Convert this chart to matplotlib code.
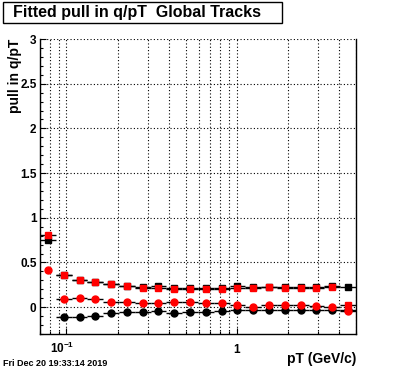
import matplotlib
matplotlib.use('Agg')
import matplotlib.pyplot as plt
import matplotlib.patches as patches
import numpy as np
from matplotlib.ticker import MultipleLocator, NullFormatter, FuncFormatter

plt.rcParams['font.family'] = ['Liberation Sans', 'DejaVu Sans']
plt.rcParams['font.weight'] = 'bold'
plt.rcParams['mathtext.fontset'] = 'custom'
plt.rcParams['mathtext.rm'] = 'Liberation Sans:bold'
plt.rcParams['mathtext.it'] = 'Liberation Sans:bold'
plt.rcParams['mathtext.bf'] = 'Liberation Sans:bold'

# pT bin edges (GeV/c), log-spaced bins
pt_edges = [0.070, 0.0867, 0.1073, 0.1328, 0.1644, 0.2035, 0.2519, 0.3118,
            0.3860, 0.4779, 0.5916, 0.7323, 0.9065, 1.1222, 1.3892, 1.7197,
            2.1288, 2.6353, 3.2622, 4.0383, 5.0]

# fitted pull values per bin
red_squares = [0.81, 0.355, 0.307, 0.284, 0.254, 0.232, 0.219, 0.209, 0.206, 0.206,
               0.207, 0.208, 0.209, 0.219, 0.221, 0.219, 0.219, 0.219, 0.221, 0.02]
black_squares = [0.756, 0.355, 0.307, 0.284, 0.254, 0.232, 0.222, 0.232, 0.21, 0.21,
                 0.21, 0.21, 0.232, 0.222, 0.222, 0.222, 0.222, 0.222, 0.235, 0.231]
red_circles = [0.419, 0.090, 0.101, 0.090, 0.063, 0.060, 0.048, 0.048, 0.060, 0.060,
               0.050, 0.045, 0.024, 0.007, 0.024, 0.024, 0.024, 0.011, 0.0, -0.04]
black_circles = [np.nan, -0.105, -0.105, -0.094, -0.070, -0.055, -0.050, -0.043, -0.068, -0.058,
                 -0.056, -0.047, -0.036, -0.034, -0.030, -0.030, -0.030, -0.030, -0.032, -0.035]

edges = np.array(pt_edges)
lo, hi = edges[:-1], edges[1:]
centers = np.sqrt(lo * hi)
xerr = np.array([centers - lo, hi - centers])
xerr_rc = xerr.copy()
xerr_rc[:, 0] = 0  # no bar drawn for first red circle

fig = plt.figure(figsize=(3.96, 3.72), dpi=100)
ax = fig.add_axes([40 / 396, 1 - 334 / 372, 316 / 396, 295 / 372])

series = [
    (black_circles, 'black', 'o', 5.0, xerr),
    (black_squares, 'black', 's', 4.6, xerr),
    (red_circles, 'red', 'o', 5.0, xerr_rc),
    (red_squares, 'red', 's', 4.6, xerr),
]
for vals, col, mk, size, xe in series:
    ax.errorbar(centers, vals, xerr=xe, fmt=mk, color=col, ms=size, mec=col,
                ecolor='black', elinewidth=1, capsize=0, zorder=3)

ax.set_xscale('log')
ax.set_xlim(0.07, 5)
ax.set_ylim(-0.3, 3)

ax.yaxis.set_major_locator(MultipleLocator(0.5))
ax.yaxis.set_minor_locator(MultipleLocator(0.1))
ax.yaxis.set_major_formatter(FuncFormatter(lambda v, p: '%g' % v))
ax.xaxis.set_major_formatter(NullFormatter())
ax.xaxis.set_minor_formatter(NullFormatter())

ax.tick_params(which='both', direction='in', top=False, right=False, width=0.8)
ax.tick_params(which='major', length=4.5)
ax.tick_params(which='minor', length=2.3)
ax.tick_params(axis='y', labelsize=8.5, pad=2.5)

dot = (0, (1, 2))
ax.grid(True, which='both', axis='x', color='black', ls=dot, lw=0.8, zorder=0)
ax.grid(True, which='major', axis='y', color='black', ls=dot, lw=0.8, zorder=0)
ax.spines['top'].set_visible(False)
for s in ['left', 'right', 'bottom']:
    ax.spines[s].set_linewidth(1)

# x tick labels, ROOT style
ax.annotate('$10^{-1}$', xy=(0.1, 0), xycoords=('data', 'axes fraction'),
            xytext=(-3, -14), textcoords='offset points', ha='center',
            va='baseline', fontsize=8.5)
ax.annotate('1', xy=(1, 0), xycoords=('data', 'axes fraction'),
            xytext=(0, -14), textcoords='offset points', ha='center',
            va='baseline', fontsize=8.5)

ax.text(1.0, -0.1, 'pT (GeV/c)', transform=ax.transAxes, ha='right',
        va='baseline', fontsize=10)
ax.text(-0.079, 1.0, 'pull in q/pT', transform=ax.transAxes, rotation=90,
        ha='center', va='top', fontsize=10)

# title box
fig.patches.append(patches.Rectangle((2.7 / 396, 1 - 22.7 / 372), 279 / 396, 21 / 372,
                                     transform=fig.transFigure, fill=True,
                                     facecolor='white', edgecolor='black', lw=1))
fig.text(12.7 / 396, 1 - 12.3 / 372, 'Fitted pull in q/pT  Global Tracks',
         ha='left', va='center', fontsize=11.5)

fig.text(2.7 / 396, 1 - 366.5 / 372, 'Fri Dec 20 19:33:14 2019', ha='left',
         va='baseline', fontsize=6.5)

fig.savefig('out.png', dpi=100)
